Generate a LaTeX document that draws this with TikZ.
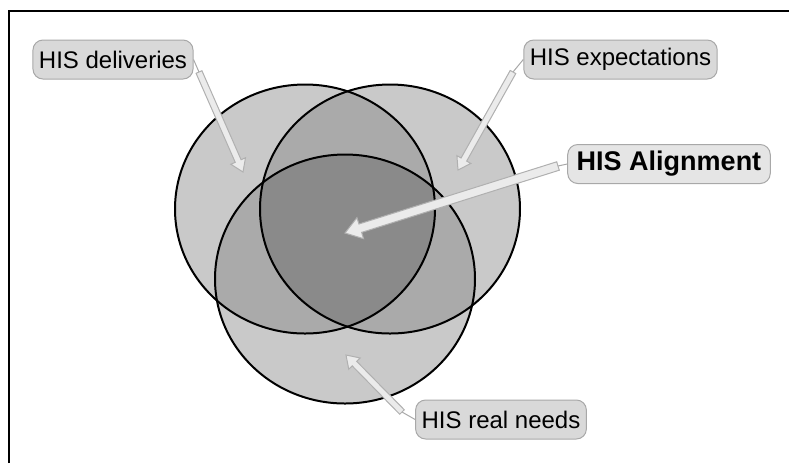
\documentclass[tikz,border=0pt]{standalone}
\usepackage{fontspec}
\setmainfont{Liberation Sans}
\usetikzlibrary{calc}

\definecolor{vennone}{gray}{0.79}
\definecolor{venntwo}{gray}{0.665}
\definecolor{vennthree}{gray}{0.54}
\definecolor{lblfill}{gray}{0.85}
\definecolor{lblbright}{gray}{0.9}
\definecolor{lblline}{gray}{0.66}

% block arrow: from, to, shaft half width, head half width, head length
\newcommand{\blockarrow}[5]{%
  \draw[barrow] let \p1=(#1), \p2=(#2),
      \n1={atan2(\y2-\y1,\x2-\x1)},
      \n2={veclen(\x2-\x1,\y2-\y1)-#5} in
    (\p1) ++(\n1+90:#3) -- ++(\n1:{\n2*1pt}) -- ++(\n1+90:{#4-#3}) --
    (\p2) -- ($(\p2)+(\n1+180:#5)+(\n1-90:#4)$) -- ++(\n1+90:{#4-#3}) --
    ($(\p1)+(\n1-90:#3)$) -- cycle;
}

\begin{document}
\begin{tikzpicture}[x=0.5pt, y=-0.5pt,
  vennsize/.style={x radius=65pt, y radius=62.25pt},
  venn/.style={draw=black, line width=1pt},
  lbl/.style={draw=lblline, fill=lblfill, line width=0.5pt, rounded corners=5pt,
    minimum height=19.5pt, inner xsep=3pt, font=\fontsize{12}{14}\selectfont},
  barrow/.style={draw=gray!62, fill=gray!16, line width=0.5pt, line join=miter},
  ptr/.style={draw=lblline, line width=0.5pt}]
  \useasboundingbox (0,0) rectangle (789,463);

  % --- Frame ---
  \draw[line width=1pt] (9,463) -- (9,11) -- (789,11);

  % --- Venn centres ---
  \coordinate (cL) at (305,209);
  \coordinate (cR) at (390,209);
  \coordinate (cB) at (345,279);

  % --- Fills: one, two and three overlaps ---
  \foreach \c in {cL,cR,cB} {
    \fill[vennone] (\c) circle[vennsize];
  }
  \begin{scope}
    \clip (cL) circle[vennsize];
    \fill[venntwo] (cR) circle[vennsize];
    \fill[venntwo] (cB) circle[vennsize];
  \end{scope}
  \begin{scope}
    \clip (cR) circle[vennsize];
    \fill[venntwo] (cB) circle[vennsize];
  \end{scope}
  \begin{scope}
    \clip (cL) circle[vennsize];
    \clip (cR) circle[vennsize];
    \fill[vennthree] (cB) circle[vennsize];
  \end{scope}
  \foreach \c in {cL,cR,cB} {
    \draw[venn] (\c) circle[vennsize];
  }

  % --- Labels ---
  \node[lbl] (dlv) at (113,59.5) {HIS deliveries};
  \node[lbl] (exp) at (620.5,59.5) {HIS expectations};
  \node[lbl, fill=lblbright, inner xsep=4.5pt,
    font=\fontsize{13.5}{16}\selectfont\bfseries] (aln) at (669,164) {HIS Alignment};
  \node[lbl] (rn) at (501,419.5) {HIS real needs};

  % --- Pointer starts and tips ---
  \coordinate (dlvS) at (199,72);
  \coordinate (dlvT) at (243,172);
  \coordinate (expS) at (513,72);
  \coordinate (expT) at (458,170);
  \coordinate (alnS) at (558,166);
  \coordinate (alnT) at (345,233);
  \coordinate (rnS) at (402,412);
  \coordinate (rnT) at (346,355);

  % --- Pointers ---
  \draw[ptr] (dlv.east) -- (dlvS);
  \draw[ptr] (exp.west) -- (expS);
  \draw[ptr] (aln.west) -- (alnS);
  \draw[ptr] (rn.west) -- (rnS);
  \blockarrow{dlvS}{dlvT}{1.6pt}{4pt}{6pt}
  \blockarrow{expS}{expT}{1.6pt}{4pt}{6pt}
  \blockarrow{alnS}{alnT}{2.2pt}{5.5pt}{8pt}
  \blockarrow{rnS}{rnT}{1.6pt}{4pt}{6pt}
\end{tikzpicture}
\end{document}
